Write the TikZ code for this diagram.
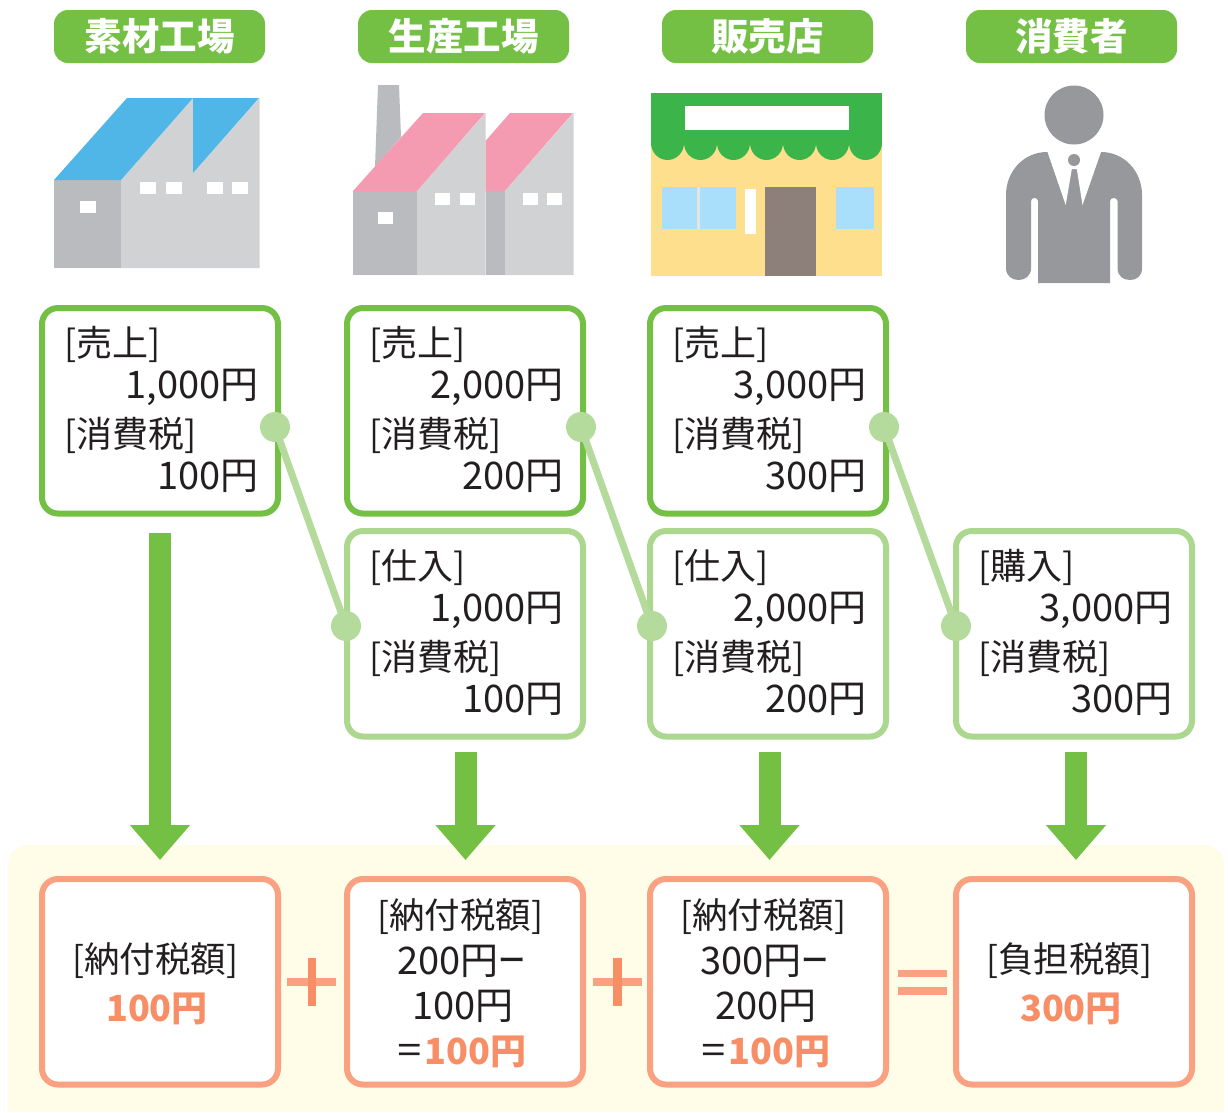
\documentclass[tikz,border=0pt]{standalone}
\usepackage{fontspec}
\setmainfont{Noto Sans CJK JP}
\usetikzlibrary{arrows.meta}
\definecolor{hgreen}{HTML}{74C045}
\definecolor{lgreen}{HTML}{ACD78F}
\definecolor{ldot}{HTML}{B4DB9C}
\definecolor{oline}{HTML}{F9A181}
\definecolor{otext}{HTML}{F78E66}
\definecolor{bgcream}{HTML}{FFFCE8}
\definecolor{txt}{HTML}{231F20}
\definecolor{fblue}{HTML}{50B6E8}
\definecolor{flight}{HTML}{D0D2D3}
\definecolor{fdark}{HTML}{BABBBF}
\definecolor{fpink}{HTML}{F59BB1}
\definecolor{awning}{HTML}{3BB54A}
\definecolor{shopy}{HTML}{FDDF8E}
\definecolor{glass}{HTML}{A9DFFA}
\definecolor{door}{HTML}{8D7F7A}
\definecolor{person}{HTML}{97989B}
\tikzset{
  headbox/.style={fill=hgreen,rounded corners=14pt,minimum width=211pt,minimum height=53pt,inner sep=0,outer sep=0,text=white,font=\fontsize{37.5}{40}\selectfont\bfseries},
  databox/.style={draw=#1,line width=6pt,fill=white,rounded corners=16pt,minimum width=236pt,minimum height=205.5pt,inner sep=0,outer sep=0,anchor=north west},
  lab/.style={anchor=base west,inner sep=0,text=txt,font=\fontsize{36}{40}\selectfont},
  val/.style={anchor=base east,inner sep=0,text=txt,font=\fontsize{38}{40}\selectfont},
  res/.style={anchor=base,inner sep=0,text=txt,font=\fontsize{35.5}{40}\selectfont},
  resv/.style={anchor=base,inner sep=0,text=txt,font=\fontsize{38}{40}\selectfont},
  resh/.style={anchor=base,inner sep=0,text=otext,font=\fontsize{36}{40}\selectfont\bfseries},
  dot/.style={circle,fill=ldot,minimum size=30pt,inner sep=0},
  link/.style={draw=ldot,line width=7pt},
  downarrow/.style={draw=hgreen,line width=22pt,-{Triangle[width=58pt,length=35pt,fill=hgreen]}},
  pane/.style={fill=white}
}
\newcommand\hi[1]{{\fontsize{36}{40}\selectfont\bfseries\color{otext}#1}}
\newcommand\shortbar{\scalebox{.72}[1]{ー}}
\newcommand\narroweq{\scalebox{.75}[1]{＝}}
\newcommand\pricebox[8]{%
  \node[databox=#4] (#1) at (#2,#3) {};
  \node[lab] (#1a) at ([shift={(22.5,48)}]#1.north west) {#5};
  \node[val] (#1b) at ([shift={(216.5,90)}]#1.north west) {#6};
  \node[lab] (#1c) at ([shift={(22.5,139)}]#1.north west) {#7};
  \node[val] (#1d) at ([shift={(216.5,181)}]#1.north west) {#8};
}
\begin{document}
\begin{tikzpicture}[x=1pt,y=-1pt]
\useasboundingbox (0,0) rectangle (1228,1112);
\fill[white] (0,0) rectangle (1228,1112);
% background band
\fill[bgcream,rounded corners=20pt] (8,845) -- (1224,845) -- (1224,1140) -- (8,1140) -- cycle;
\fill[white] (0,1112) rectangle (1228,1150);
% headers
\node[headbox] (h1) at (159.5,36.5) {素材工場};
\node[headbox] (h2) at (463.5,36.5) {生産工場};
\node[headbox] (h3) at (767.5,36.5) {販売店};
\node[headbox] (h4) at (1071.5,36.5) {消費者};
% factory 1
\fill[flight] (121,180) -- (193,98) -- (193,173) -- (259.5,98) -- (259.5,268) -- (121,268) -- cycle;
\fill[fdark] (54,180) rectangle (121,268);
\fill[fblue] (54,180) -- (127,98) -- (193,98) -- (121,180) -- cycle;
\fill[fblue] (193,98) -- (259,98) -- (193,173) -- cycle;
\fill[pane] (140,182) rectangle (156,194);
\fill[pane] (166,182) rectangle (182,194);
\fill[pane] (207,182) rectangle (223,194);
\fill[pane] (232,182) rectangle (248,194);
\fill[pane] (80,201) rectangle (96,213);
% factory 2
\fill[fdark] (378,85) -- (399,85) -- (401,137) -- (375,167) -- cycle;
\fill[fdark] (353,191) rectangle (417,275);
\fill[flight] (417,191) -- (485.5,113) -- (485.5,275) -- (417,275) -- cycle;
\fill[fpink] (353,191) -- (423,113) -- (485,113) -- (417,191) -- cycle;
\fill[fdark] (485.5,191) rectangle (505,275);
\fill[fpink] (485.5,141) -- (510,113) -- (573,113) -- (505,191) -- (485.5,191) -- cycle;
\fill[flight] (505,191) -- (573.5,113) -- (573.5,275) -- (505,275) -- cycle;
\fill[pane] (435,193) rectangle (450,205);
\fill[pane] (460,193) rectangle (475,205);
\fill[pane] (523,193) rectangle (538,205);
\fill[pane] (547,193) rectangle (562,205);
\fill[pane] (378,212) rectangle (393,224);
% shop
\fill[shopy] (651,143) rectangle (882,276);
\fill[awning] (651,93) rectangle (882,143.5);
\foreach \i in {0,...,6} {\fill[awning] (651+33*\i,143) arc[start angle=180,end angle=360,x radius=16.5pt,y radius=17pt] -- cycle;}
\fill[pane] (685,106) rectangle (849,130);
\fill[glass] (662,187) rectangle (697,229);
\fill[flight!60!white] (697,187) rectangle (700,229);
\fill[glass] (700,187) rectangle (736,229);
\fill[pane] (745,189) rectangle (756,234);
\fill[door] (765,187) rectangle (816,276);
\fill[glass] (836,187) rectangle (874,229);
% person
\fill[person] (1074,115) ellipse[x radius=29.5pt,y radius=29.5pt];
\fill[person] (1047,152) -- (1101,152) .. controls (1124,152) and (1142,171) .. (1142,195) -- (1142,268) .. controls (1142,276) and (1137,280) .. (1130,280) .. controls (1123,280) and (1117.5,276) .. (1117.5,268) -- (1117.5,201) .. controls (1117.5,197) and (1110,197) .. (1110,201) -- (1110,283) -- (1038,283) -- (1038,201) .. controls (1038,197) and (1031,197) .. (1031,201) -- (1031,268) .. controls (1031,276) and (1025,280) .. (1018.5,280) .. controls (1012,280) and (1006,276) .. (1006,268) -- (1006,195) .. controls (1006,171) and (1024,152) .. (1047,152) -- cycle;
\fill[white] (1047.5,152) -- (1065.7,205) -- (1071.8,169) -- (1076.8,169) -- (1082.5,205) -- (1101,152) -- cycle;
\fill[person] (1074,160) circle[radius=6pt];
% top row
\pricebox{s1}{42}{308}{hgreen}{[売上]}{1,000円}{[消費税]}{100円}
\pricebox{s2}{347}{308}{hgreen}{[売上]}{2,000円}{[消費税]}{200円}
\pricebox{s3}{650}{308}{hgreen}{[売上]}{3,000円}{[消費税]}{300円}
% second row
\pricebox{p2}{347}{531}{lgreen}{[仕入]}{1,000円}{[消費税]}{100円}
\pricebox{p3}{650}{531}{lgreen}{[仕入]}{2,000円}{[消費税]}{200円}
\pricebox{p4}{956}{531}{lgreen}{[購入]}{3,000円}{[消費税]}{300円}
% dots and links
\node[dot] (d1a) at (275,427) {};
\node[dot] (d1b) at (346,626) {};
\node[dot] (d2a) at (581,427) {};
\node[dot] (d2b) at (652,626) {};
\node[dot] (d3a) at (884,427) {};
\node[dot] (d3b) at (956,626) {};
\draw[link] (d1a.center) -- (d1b.center);
\draw[link] (d2a.center) -- (d2b.center);
\draw[link] (d3a.center) -- (d3b.center);
% arrows
\coordinate (a1s) at (160,533); \coordinate (a1e) at (160,860);
\coordinate (a2s) at (465.5,752); \coordinate (a2e) at (465.5,860);
\coordinate (a3s) at (769.5,752); \coordinate (a3e) at (769.5,860);
\coordinate (a4s) at (1076,752); \coordinate (a4e) at (1076,860);
\draw[downarrow] (a1s) -- (a1e);
\draw[downarrow] (a2s) -- (a2e);
\draw[downarrow] (a3s) -- (a3e);
\draw[downarrow] (a4s) -- (a4e);
% bottom row
\node[databox=oline] (r1) at (42,879) {};
\node[databox=oline] (r2) at (347,879) {};
\node[databox=oline] (r3) at (650,879) {};
\node[databox=oline] (r4) at (956,879) {};
\node[res] (r1a) at (155,972) {[納付税額]};
\node[resh] (r1b) at (157,1021) {100円};
\node[res] (r2a) at (460,928) {[納付税額]};
\node[resv] (r2b) at (462,974) {200円\shortbar};
\node[resv] (r2c) at (463,1019) {100円};
\node[resv] (r2d) at (461,1064) {\narroweq\hi{100円}};
\node[res] (r3a) at (763,928) {[納付税額]};
\node[resv] (r3b) at (765,974) {300円\shortbar};
\node[resv] (r3c) at (766,1019) {200円};
\node[resv] (r3d) at (765,1064) {\narroweq\hi{100円}};
\node[res] (r4a) at (1069,972) {[負担税額]};
\node[resh] (r4b) at (1071,1021) {300円};
% operators
\fill[oline] (287,978) rectangle (336,986);
\fill[otext] (307.5,958) rectangle (316,1006);
\fill[oline] (593,978) rectangle (642,986);
\fill[otext] (613,958) rectangle (621.5,1006);
\fill[oline] (898,970) rectangle (947,977);
\fill[oline] (898,987) rectangle (947,995);
\end{tikzpicture}
\end{document}
